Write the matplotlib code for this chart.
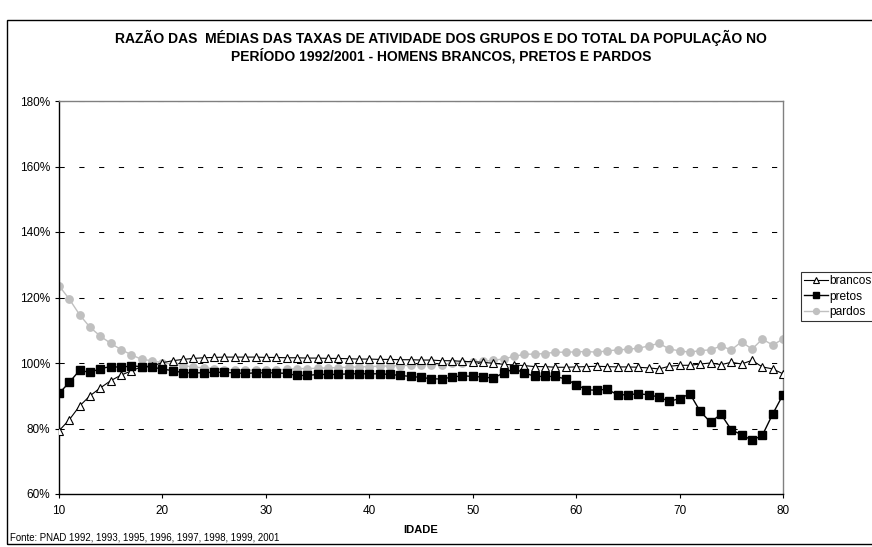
import matplotlib.pyplot as plt
from matplotlib.patches import Rectangle

idade = list(range(10, 81))

brancos = [
    79.3, 82.7, 86.9, 90.0, 92.4, 94.6, 96.3, 97.6, 98.9, 99.1,
    100.1, 100.7, 101.1, 101.4, 101.6, 101.7, 101.8, 101.8, 101.8, 101.8,
    101.7, 101.7, 101.6, 101.6, 101.5, 101.5, 101.4, 101.4, 101.3, 101.2,
    101.2, 101.1, 101.1, 101.0, 101.0, 100.9, 100.9, 100.7, 100.7, 100.5,
    100.4, 100.2, 99.9, 99.6, 99.4, 99.2, 98.9, 98.9, 98.7, 98.7,
    98.8, 98.9, 99.0, 98.9, 98.8, 98.8, 98.7, 98.5, 98.2, 99.0,
    99.3, 99.3, 99.7, 100.0, 99.5, 100.2, 99.7, 100.8, 98.8, 98.2,
    96.7,
]

pretos = [
    90.7, 94.1, 97.8, 97.1, 98.3, 98.9, 98.7, 99.1, 98.9, 98.8,
    98.1, 97.7, 97.0, 97.0, 97.0, 97.2, 97.1, 97.0, 96.8, 97.0,
    97.0, 97.0, 96.8, 96.2, 96.2, 96.5, 96.5, 96.5, 96.7, 96.7,
    96.7, 96.7, 96.5, 96.2, 95.9, 95.6, 95.2, 95.1, 95.7, 96.1,
    95.9, 95.7, 95.4, 97.0, 98.2, 97.0, 95.9, 95.9, 95.9, 95.1,
    93.4, 91.8, 91.7, 92.0, 90.3, 90.3, 90.6, 90.3, 89.6, 88.3,
    89.1, 90.6, 85.2, 81.9, 84.4, 79.6, 78.1, 76.4, 77.9, 84.4,
    90.3,
]

pardos = [
    123.6, 119.5, 114.7, 110.9, 108.2, 106.0, 104.1, 102.5, 101.1, 100.7,
    100.1, 99.6, 99.2, 98.8, 98.5, 98.3, 98.0, 97.9, 97.9, 97.8,
    97.8, 97.9, 98.1, 98.3, 98.3, 98.4, 98.5, 98.6, 98.7, 98.8,
    98.9, 99.0, 99.1, 99.2, 99.3, 99.5, 99.5, 99.5, 100.0, 100.0,
    100.2, 100.5, 100.8, 101.3, 102.0, 102.7, 102.7, 102.9, 103.3, 103.3,
    103.4, 103.5, 103.3, 103.7, 104.0, 104.2, 104.5, 105.2, 106.0, 104.3,
    103.7, 103.3, 103.8, 104.0, 105.2, 104.0, 106.5, 104.2, 107.3, 105.5,
    107.3,
]

y_ticks = [60, 80, 100, 120, 140, 160, 180]
x_ticks = [10, 20, 30, 40, 50, 60, 70, 80]

plt.rcParams['font.family'] = ['Liberation Sans', 'DejaVu Sans']

W, H = 872, 547
fig = plt.figure(figsize=(W / 100, H / 100), dpi=100)
ax = fig.add_axes([59 / W, 1 - 494 / H, (783 - 59) / W, (494 - 101) / H])

# outer chart frame
fig.patches.append(Rectangle((7 / W, 1 - 544 / H), 1.0, (544 - 20) / H,
                             transform=fig.transFigure, fill=False,
                             edgecolor='black', linewidth=1))

# dashed gridlines
for v in y_ticks[1:]:
    ax.axhline(v, color='black', linewidth=0.75, linestyle=(0, (5, 14)), zorder=1)

ax.plot(idade, brancos, color='black', linewidth=0.8, marker='^',
        markersize=5.3, markerfacecolor='white', markeredgecolor='black',
        markeredgewidth=0.8, label='brancos', zorder=3)
ax.plot(idade, pretos, color='black', linewidth=1.0, marker='s',
        markersize=5.2, markerfacecolor='black', markeredgecolor='black',
        label='pretos', zorder=3)
ax.plot(idade, pardos, color='#c0c0c0', linewidth=1.0, marker='o',
        markersize=5.3, markerfacecolor='#c0c0c0', markeredgecolor='#c0c0c0',
        label='pardos', zorder=2)

ax.set_xlim(10, 80)
ax.set_ylim(60, 180)
ax.set_xticks(x_ticks)
ax.set_yticks(y_ticks)
ax.set_yticklabels([f'{v}%' for v in y_ticks])
ax.tick_params(axis='both', labelsize=8.5, direction='out', length=3, width=0.8)
ax.tick_params(axis='x', pad=5)

for s in ['top', 'right']:
    ax.spines[s].set_color('#808080')
    ax.spines[s].set_linewidth(1)
for s in ['left', 'bottom']:
    ax.spines[s].set_color('black')
    ax.spines[s].set_linewidth(1)

fig.text(441 / W, 1 - 46.5 / H,
         'RAZÃO DAS  MÉDIAS DAS TAXAS DE ATIVIDADE DOS GRUPOS E DO TOTAL DA POPULAÇÃO NO\n'
         'PERÍODO 1992/2001 - HOMENS BRANCOS, PRETOS E PARDOS',
         ha='center', va='center', fontsize=10, fontweight='bold', linespacing=1.2)

fig.text(421 / W, 1 - 530 / H, 'IDADE', ha='center', va='center',
         fontsize=8, fontweight='bold')
fig.text(10 / W, 1 - 538 / H, 'Fonte: PNAD 1992, 1993, 1995, 1996, 1997, 1998, 1999, 2001',
         ha='left', va='center', fontsize=6.9)

leg = fig.legend(loc='upper left', bbox_to_anchor=(801 / W, 1 - 272 / H),
                 fontsize=8.6, frameon=True, fancybox=False, handlelength=2.0,
                 handletextpad=0.15, borderpad=0.25, labelspacing=0.3,
                 borderaxespad=0, markerscale=0.8)
leg.get_frame().set_edgecolor('black')
leg.get_frame().set_linewidth(0.8)

fig.savefig('out.png', dpi=100)
